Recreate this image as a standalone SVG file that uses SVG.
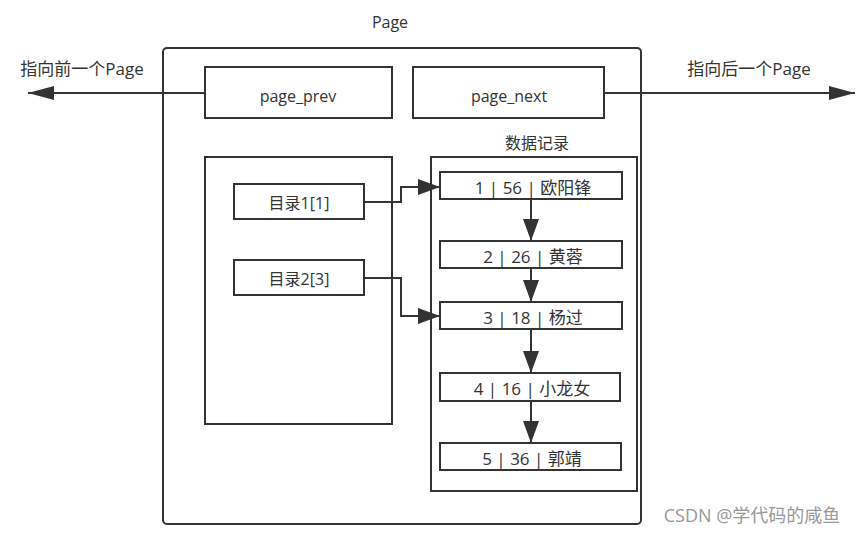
<svg xmlns="http://www.w3.org/2000/svg" width="863" height="536" viewBox="0 0 863 536">
<style>
.box{fill:#fff;stroke:#333;stroke-width:2}
.t{font-family:"Open Sans","Noto Sans CJK SC",sans-serif;font-size:16px;fill:#333;text-anchor:middle;dominant-baseline:central}
.l{font-size:17px}
.c{fill:none;stroke:#333;stroke-width:2}
</style>
<defs>
<marker id="big" markerWidth="26" markerHeight="14" refX="26" refY="7" orient="auto" markerUnits="userSpaceOnUse" viewBox="0 0 26 14">
<path d="M0,0 L26,7 L0,14 Z" fill="#333"/>
</marker>
<marker id="dn" markerWidth="22" markerHeight="16" refX="22" refY="8" orient="auto" markerUnits="userSpaceOnUse" viewBox="0 0 22 16">
<path d="M0,0 L22,8 L0,16 Z" fill="#333"/>
</marker>
</defs>
<rect width="863" height="536" fill="#fff"/>
<text class="t" x="390" y="22">Page</text>
<g id="page"><rect class="box" x="163" y="48" width="478" height="476" rx="4"/></g>
<g id="connectors">
<line class="c" x1="205" y1="93" x2="28" y2="93" marker-end="url(#big)"/>
<line class="c" x1="604" y1="93" x2="855" y2="93" marker-end="url(#big)"/>
</g>
<text class="t l" x="82" y="68">指向前一个Page</text>
<text class="t l" x="749" y="68">指向后一个Page</text>
<g id="page_prev"><rect class="box" x="205" y="67" width="187" height="51"/><text class="t" x="298" y="96">page_prev</text></g>
<g id="page_next"><rect class="box" x="413" y="67" width="191" height="51"/><text class="t" x="509" y="96">page_next</text></g>
<g id="index"><rect class="box" x="205" y="157" width="187" height="267"/></g>
<g id="dir1"><rect class="box" x="234" y="184" width="130" height="35"/><text class="t" x="299" y="203">目录1[1]</text></g>
<g id="dir2"><rect class="box" x="234" y="260" width="130" height="35"/><text class="t" x="299" y="279">目录2[3]</text></g>
<text class="t" x="537" y="143">数据记录</text>
<g id="data"><rect class="box" x="431" y="157" width="206" height="334"/></g>
<g id="r1"><rect class="box" x="440" y="172" width="182" height="27"/><text class="t l" x="533" y="187">1 | 56 | 欧阳锋</text></g>
<g id="r2"><rect class="box" x="440" y="241" width="182" height="27"/><text class="t l" x="533" y="256">2 | 26 | 黄蓉</text></g>
<g id="r3"><rect class="box" x="440" y="302" width="182" height="27"/><text class="t l" x="533" y="317">3 | 18 | 杨过</text></g>
<g id="r4"><rect class="box" x="440" y="373" width="180" height="28"/><text class="t l" x="532" y="388">4 | 16 | 小龙女</text></g>
<g id="r5"><rect class="box" x="440" y="443" width="181" height="27"/><text class="t l" x="532" y="458">5 | 36 | 郭靖</text></g>
<g id="connectors2">
<polyline class="c" points="364,202 401,202 401,187 440,187" marker-end="url(#dn)"/>
<polyline class="c" points="364,278 401,278 401,316 440,316" marker-end="url(#dn)"/>
<line class="c" x1="531" y1="199" x2="531" y2="241" marker-end="url(#dn)"/>
<line class="c" x1="531" y1="268" x2="531" y2="302" marker-end="url(#dn)"/>
<line class="c" x1="531" y1="329" x2="531" y2="373" marker-end="url(#dn)"/>
<line class="c" x1="531" y1="401" x2="531" y2="443" marker-end="url(#dn)"/>
</g>
<text x="752" y="522" style="font-family:'Open Sans','Noto Sans CJK SC',sans-serif;font-size:18px;fill:#999;text-anchor:middle">CSDN @学代码的咸鱼</text>
</svg>
